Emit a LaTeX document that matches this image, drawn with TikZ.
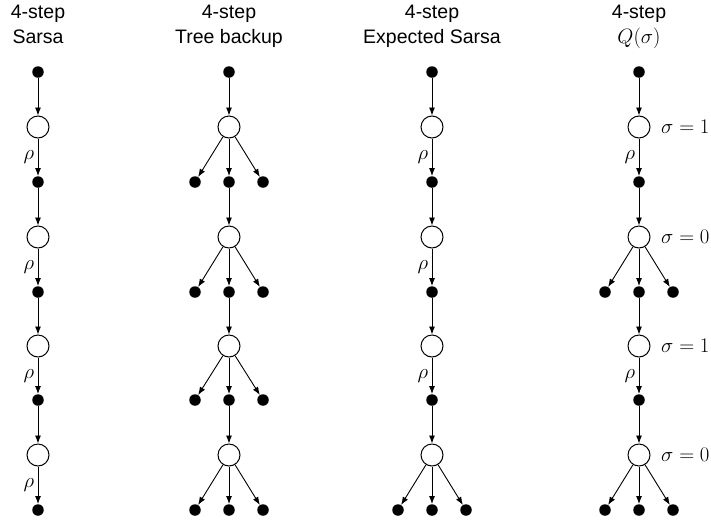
\documentclass[tikz,border=0pt]{standalone}
\usepackage{fontspec}
\setmainfont{Liberation Sans}
\usepackage{tikz}
\usetikzlibrary{arrows.meta,positioning}

\begin{document}
\begin{tikzpicture}[
x=1pt,
y=-1pt,
every node/.style={font=\fontsize{19.5}{25}\selectfont},
sdot/.style={circle,fill=black,inner sep=0pt,minimum size=11.5pt},
chance/.style={circle,draw,line width=1pt,fill=white,inner sep=0pt,minimum size=22pt},
heading/.style={align=center,anchor=north,inner sep=0pt},
arr/.style={-{Latex[length=8pt,width=6pt]},line width=0.9pt},
lbl/.style={inner sep=3.5pt},
sig/.style={anchor=west,inner sep=0pt}
]
\useasboundingbox (0,0) rectangle (711,520);

% headings
\node[heading] (hsarsa) at (38,5) {4-step\\Sarsa};
\node[heading] (htree) at (229,5) {4-step\\Tree backup};
\node[heading] (hexp) at (432,5) {4-step\\Expected Sarsa};
\node[heading] (hq) at (639,5) {4-step\\$Q(\sigma)$};

% Sarsa
\node[sdot] (sa0) at (38,72) {};
\node[chance] (sa1) at (38,127) {};
\node[sdot] (sa2) at (38,182) {};
\node[chance] (sa3) at (38,237) {};
\node[sdot] (sa4) at (38,292) {};
\node[chance] (sa5) at (38,346) {};
\node[sdot] (sa6) at (38,400) {};
\node[chance] (sa7) at (38,455) {};
\node[sdot] (sa8) at (38,510) {};

\draw[arr] (sa0) -- (sa1);
\draw[arr] (sa1) -- node[lbl,left]{$\rho$} (sa2);
\draw[arr] (sa2) -- (sa3);
\draw[arr] (sa3) -- node[lbl,left]{$\rho$} (sa4);
\draw[arr] (sa4) -- (sa5);
\draw[arr] (sa5) -- node[lbl,left]{$\rho$} (sa6);
\draw[arr] (sa6) -- (sa7);
\draw[arr] (sa7) -- node[lbl,left]{$\rho$} (sa8);

% Tree backup
\node[sdot] (tb0) at (229,72) {};
\node[chance] (tb1) at (229,127) {};
\node[sdot] (tb2l) at (195,182) {};
\node[sdot] (tb2) at (229,182) {};
\node[sdot] (tb2r) at (263,182) {};
\node[chance] (tb3) at (229,237) {};
\node[sdot] (tb4l) at (195,292) {};
\node[sdot] (tb4) at (229,292) {};
\node[sdot] (tb4r) at (263,292) {};
\node[chance] (tb5) at (229,346) {};
\node[sdot] (tb6l) at (195,400) {};
\node[sdot] (tb6) at (229,400) {};
\node[sdot] (tb6r) at (263,400) {};
\node[chance] (tb7) at (229,455) {};
\node[sdot] (tb8l) at (195,510) {};
\node[sdot] (tb8) at (229,510) {};
\node[sdot] (tb8r) at (263,510) {};

\draw[arr] (tb0) -- (tb1);
\draw[arr] (tb1) -- (tb2l);
\draw[arr] (tb1) -- (tb2);
\draw[arr] (tb1) -- (tb2r);
\draw[arr] (tb2) -- (tb3);
\draw[arr] (tb3) -- (tb4l);
\draw[arr] (tb3) -- (tb4);
\draw[arr] (tb3) -- (tb4r);
\draw[arr] (tb4) -- (tb5);
\draw[arr] (tb5) -- (tb6l);
\draw[arr] (tb5) -- (tb6);
\draw[arr] (tb5) -- (tb6r);
\draw[arr] (tb6) -- (tb7);
\draw[arr] (tb7) -- (tb8l);
\draw[arr] (tb7) -- (tb8);
\draw[arr] (tb7) -- (tb8r);

% Expected Sarsa
\node[sdot] (es0) at (432,72) {};
\node[chance] (es1) at (432,127) {};
\node[sdot] (es2) at (432,182) {};
\node[chance] (es3) at (432,237) {};
\node[sdot] (es4) at (432,292) {};
\node[chance] (es5) at (432,346) {};
\node[sdot] (es6) at (432,400) {};
\node[chance] (es7) at (432,455) {};
\node[sdot] (es8l) at (398,510) {};
\node[sdot] (es8) at (432,510) {};
\node[sdot] (es8r) at (466,510) {};

\draw[arr] (es0) -- (es1);
\draw[arr] (es1) -- node[lbl,left]{$\rho$} (es2);
\draw[arr] (es2) -- (es3);
\draw[arr] (es3) -- node[lbl,left]{$\rho$} (es4);
\draw[arr] (es4) -- (es5);
\draw[arr] (es5) -- node[lbl,left]{$\rho$} (es6);
\draw[arr] (es6) -- (es7);
\draw[arr] (es7) -- (es8l);
\draw[arr] (es7) -- (es8);
\draw[arr] (es7) -- (es8r);

% Q(sigma)
\node[sdot] (qs0) at (639,72) {};
\node[chance] (qs1) at (639,127) {};
\node[sdot] (qs2) at (639,182) {};
\node[chance] (qs3) at (639,237) {};
\node[sdot] (qs4l) at (605,292) {};
\node[sdot] (qs4) at (639,292) {};
\node[sdot] (qs4r) at (673,292) {};
\node[chance] (qs5) at (639,346) {};
\node[sdot] (qs6) at (639,400) {};
\node[chance] (qs7) at (639,455) {};
\node[sdot] (qs8l) at (605,510) {};
\node[sdot] (qs8) at (639,510) {};
\node[sdot] (qs8r) at (673,510) {};

\node[sig] (sig1) at (661,127) {$\sigma=1$};
\node[sig] (sig3) at (661,237) {$\sigma=0$};
\node[sig] (sig5) at (661,346) {$\sigma=1$};
\node[sig] (sig7) at (661,455) {$\sigma=0$};

\draw[arr] (qs0) -- (qs1);
\draw[arr] (qs1) -- node[lbl,left]{$\rho$} (qs2);
\draw[arr] (qs2) -- (qs3);
\draw[arr] (qs3) -- (qs4l);
\draw[arr] (qs3) -- (qs4);
\draw[arr] (qs3) -- (qs4r);
\draw[arr] (qs4) -- (qs5);
\draw[arr] (qs5) -- node[lbl,left]{$\rho$} (qs6);
\draw[arr] (qs6) -- (qs7);
\draw[arr] (qs7) -- (qs8l);
\draw[arr] (qs7) -- (qs8);
\draw[arr] (qs7) -- (qs8r);
\end{tikzpicture}
\end{document}
